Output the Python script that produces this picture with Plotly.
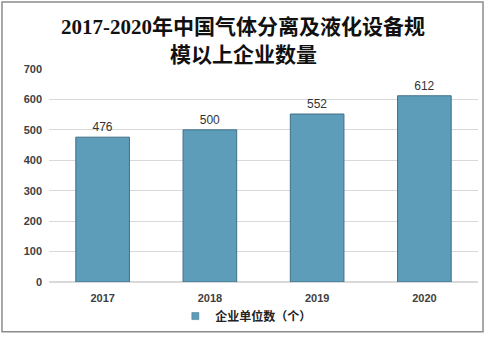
import plotly.graph_objects as go

years = ["2017", "2018", "2019", "2020"]
counts = [476, 500, 552, 612]
series_name = "企业单位数（个）"
title_lines = ["2017-2020年中国气体分离及液化设备规", "模以上企业数量"]
y_ticks = [0, 100, 200, 300, 400, 500, 600, 700]

BAR_FILL = "#5e9dba"
BAR_EDGE = "#3f6f86"
AXIS_FONT = dict(family="Liberation Sans, Arial", size=11, color="#404040", weight="bold")

fig = go.Figure()
fig.add_trace(go.Bar(
    x=years,
    y=counts,
    name=series_name,
    showlegend=False,
    marker=dict(color=BAR_FILL, line=dict(color=BAR_EDGE, width=1)),
    text=[str(v) for v in counts],
    textposition="outside",
    textfont=dict(family="Liberation Sans, Arial", size=12, color="#333333"),
    cliponaxis=False,
))
# small square key for the legend entry
fig.add_trace(go.Scatter(
    x=[None], y=[None], mode="markers", name=series_name,
    marker=dict(symbol="square", size=7, color=BAR_FILL, line=dict(color=BAR_EDGE, width=0.5)),
))

title_font = dict(family="Liberation Serif, Noto Sans CJK SC", size=21, color="#111111")
annotations = [
    dict(text="<b>" + title_lines[0] + "</b>", xref="paper", yref="paper",
         x=0.453, y=1.197, xanchor="center", yanchor="middle", showarrow=False, font=title_font),
    dict(text="<b>" + title_lines[1] + "</b>", xref="paper", yref="paper",
         x=0.453, y=1.066, xanchor="center", yanchor="middle", showarrow=False, font=title_font),
]

fig.update_layout(
    width=488,
    height=337,
    margin=dict(l=49, r=10, t=69, b=55, autoexpand=False),
    paper_bgcolor="white",
    plot_bgcolor="white",
    bargap=0.5,
    showlegend=True,
    legend=dict(
        orientation="h", x=0.46, xanchor="center",
        yref="container", y=0.062, yanchor="middle",
        bgcolor="rgba(0,0,0,0)",
        font=dict(family="Noto Sans CJK SC", size=12, color="#222222", weight="bold"),
        itemwidth=30, tracegroupgap=0,
    ),
    annotations=annotations,
    xaxis=dict(
        tickfont=AXIS_FONT,
        showline=False, ticks="",
        ticklabelstandoff=8,
    ),
    yaxis=dict(
        range=[0, 700],
        tickvals=y_ticks,
        tickfont=AXIS_FONT,
        gridcolor="#d9d9d9",
        zeroline=True, zerolinecolor="#d9d9d9",
        ticks="", ticklen=0,
        ticklabelstandoff=6,
    ),
    shapes=[dict(
        type="rect", xref="paper", yref="paper",
        x0=-0.1096, x1=1.0117, y0=-0.2337, y1=1.315,
        line=dict(color="#8c8c8c", width=1.5),
    )],
)

fig.write_html("out.html")
